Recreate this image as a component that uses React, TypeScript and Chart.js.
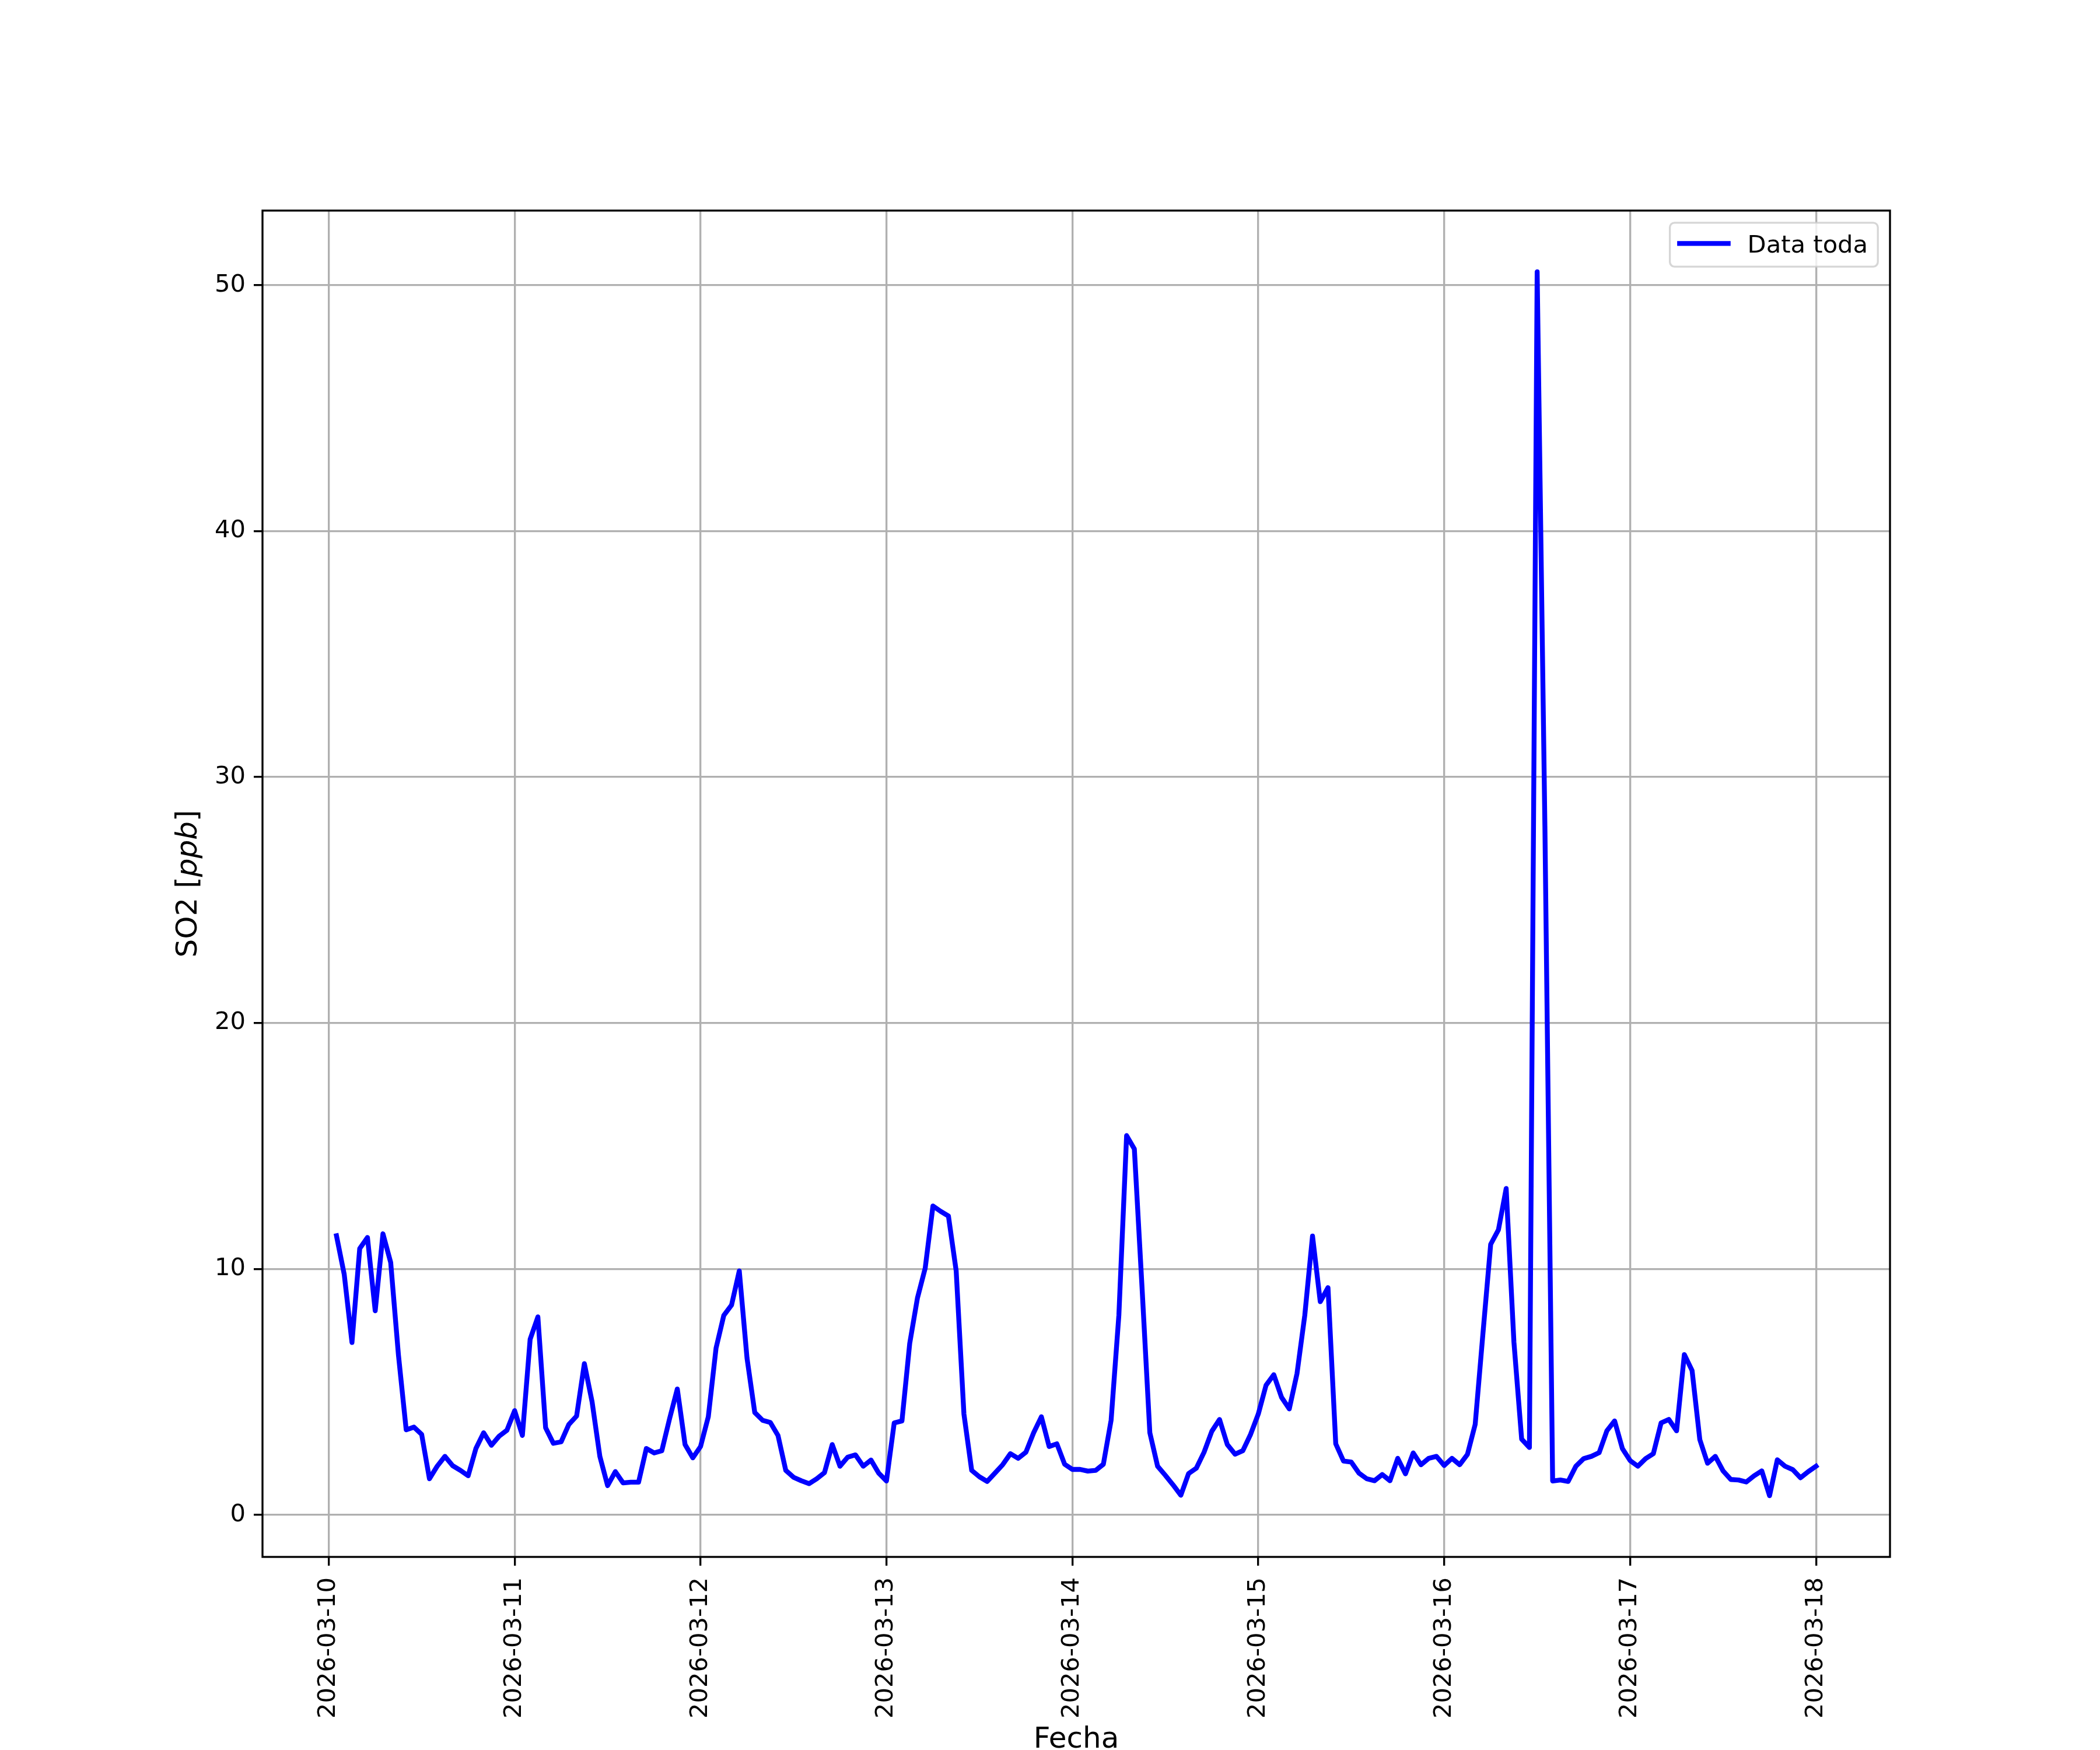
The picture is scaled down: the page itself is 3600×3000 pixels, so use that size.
import React, { useEffect, useRef } from 'react';
import { Chart, registerables } from 'chart.js';

Chart.register(...registerables);

// ---------- data ----------
const seriesLabel = 'Data toda';
const xTitle = 'Fecha';
const yTitleParts = ['SO2 [', 'ppb', ']']; // middle part is italic (math text)

const tickDays = [0, 1, 2, 3, 4, 5, 6, 7, 8];
const tickLabels = [
  '2026-03-10', '2026-03-11', '2026-03-12', '2026-03-13', '2026-03-14',
  '2026-03-15', '2026-03-16', '2026-03-17', '2026-03-18',
];
const yTicks = [0, 10, 20, 30, 40, 50];

// hourly SO2 [ppb], first sample 2026-03-10 01:00, last 2026-03-18 00:00
const so2Mar10 = [11.35, 9.78, 7.01, 10.83, 11.28, 8.30, 11.43, 10.26, 6.5, 3.46, 3.57, 3.27, 1.47, 1.98, 2.38, 2.0, 1.81, 1.59, 2.70, 3.34, 2.83, 3.20, 3.44, 4.24];
const so2Mar11 = [3.23, 7.14, 8.05, 3.54, 2.91, 2.97, 3.68, 4.02, 6.15, 4.59, 2.38, 1.19, 1.76, 1.30, 1.33, 1.33, 2.70, 2.52, 2.61, 3.91, 5.12, 2.86, 2.32, 2.78];
const so2Mar12 = [3.99, 6.78, 8.11, 8.53, 9.92, 6.37, 4.16, 3.85, 3.76, 3.23, 1.81, 1.53, 1.39, 1.27, 1.47, 1.72, 2.86, 1.98, 2.35, 2.44, 1.98, 2.23, 1.70, 1.38];
const so2Mar13 = [3.74, 3.82, 6.97, 8.82, 10.03, 12.56, 12.34, 12.15, 9.92, 4.10, 1.81, 1.55, 1.36, 1.70, 2.04, 2.49, 2.30, 2.55, 3.34, 3.99, 2.78, 2.89, 2.06, 1.85];
const so2Mar14 = [1.85, 1.78, 1.81, 2.06, 3.85, 8.11, 15.42, 14.88, 9.2, 3.34, 1.98, 1.61, 1.22, 0.80, 1.68, 1.90, 2.55, 3.40, 3.88, 2.86, 2.47, 2.61, 3.27, 4.10];
const so2Mar15 = [5.27, 5.70, 4.78, 4.31, 5.75, 8.11, 11.34, 8.67, 9.24, 2.89, 2.19, 2.15, 1.70, 1.47, 1.39, 1.64, 1.39, 2.30, 1.67, 2.52, 2.04, 2.30, 2.38, 2.01];
const so2Mar16 = [2.30, 2.04, 2.46, 3.68, 7.37, 11.0, 11.59, 13.27, 7.03, 3.08, 2.74, 50.54, 28.0, 1.38, 1.42, 1.36, 1.98, 2.29, 2.38, 2.53, 3.42, 3.82, 2.70, 2.21];
const so2Mar17 = [1.98, 2.29, 2.49, 3.74, 3.88, 3.42, 6.52, 5.87, 3.06, 2.10, 2.38, 1.79, 1.44, 1.42, 1.34, 1.59, 1.79, 0.78, 2.24, 1.98, 1.84, 1.51, 1.76, 1.98];

const so2Values = [
  ...so2Mar10, ...so2Mar11, ...so2Mar12, ...so2Mar13,
  ...so2Mar14, ...so2Mar15, ...so2Mar16, ...so2Mar17,
];
const firstHour = 1; // hours after 2026-03-10 00:00

// ---------- styling ----------
const FONT = "'DejaVu Sans', 'Liberation Sans', sans-serif";
const PT = 300 / 72; // px per point at 300 dpi
const LW_AXES = 0.8 * PT;
const TICK_FS = 10 * PT;
const LABEL_FS = 12 * PT;

export default function App() {
  const canvasRef = useRef<HTMLCanvasElement | null>(null);

  useEffect(() => {
    const canvas = canvasRef.current;
    if (!canvas) return;

    const points = so2Values.map((v, i) => ({ x: (i + firstHour) / 24, y: v }));
    const xs = points.map((p) => p.x);
    const ys = points.map((p) => p.y);
    const xLo = Math.min(...xs), xHi = Math.max(...xs);
    const yLo = Math.min(...ys), yHi = Math.max(...ys);
    const xPad = 0.05 * (xHi - xLo);
    const yPad = 0.05 * (yHi - yLo);

    const decor = {
      id: 'mplDecor',
      afterDatasetsDraw(chart: any) {
        const { ctx, chartArea: a } = chart;
        ctx.save();
        ctx.strokeStyle = '#000';
        ctx.lineWidth = LW_AXES;
        ctx.strokeRect(a.left, a.top, a.right - a.left, a.bottom - a.top);
        ctx.restore();
      },
      afterDraw(chart: any) {
        const { ctx, chartArea: a } = chart;
        ctx.save();
        // legend
        const bw = 356.6, bh = 75.3;
        const bx = a.right - 20.8 - bw;
        const by = a.top + 20.8;
        ctx.beginPath();
        ctx.roundRect(bx, by, bw, bh, 8);
        ctx.fillStyle = 'rgba(255,255,255,0.8)';
        ctx.fill();
        ctx.strokeStyle = 'rgba(204,204,204,0.8)';
        ctx.lineWidth = LW_AXES;
        ctx.stroke();
        ctx.beginPath();
        ctx.strokeStyle = '#0000ff';
        ctx.lineWidth = 2 * PT;
        ctx.lineCap = 'square';
        ctx.moveTo(bx + 16.7, by + 35.5);
        ctx.lineTo(bx + 16.7 + 83.3, by + 35.5);
        ctx.stroke();
        ctx.fillStyle = '#000';
        ctx.font = `${TICK_FS}px ${FONT}`;
        ctx.textBaseline = 'alphabetic';
        ctx.textAlign = 'left';
        ctx.fillText(seriesLabel, bx + 133, by + 51);

        // x title
        ctx.font = `${LABEL_FS}px ${FONT}`;
        ctx.textAlign = 'center';
        ctx.fillText(xTitle, (a.left + a.right) / 2, 2996);

        // y title with italic middle part
        const fonts = [
          `${LABEL_FS}px ${FONT}`,
          `italic ${LABEL_FS}px ${FONT}`,
          `${LABEL_FS}px ${FONT}`,
        ];
        const widths = yTitleParts.map((t, i) => {
          ctx.font = fonts[i];
          return ctx.measureText(t).width;
        });
        const total = widths.reduce((s, w) => s + w, 0);
        ctx.translate(337, (a.top + a.bottom) / 2);
        ctx.rotate(-Math.PI / 2);
        ctx.textAlign = 'left';
        let cx = -total / 2;
        yTitleParts.forEach((t, i) => {
          ctx.font = fonts[i];
          ctx.fillText(t, cx, 0);
          cx += widths[i];
        });
        ctx.restore();
      },
    };

    const chart = new Chart(canvas, {
      type: 'line',
      data: {
        datasets: [
          {
            label: seriesLabel,
            data: points,
            borderColor: '#0000ff',
            backgroundColor: '#0000ff',
            borderWidth: 2 * PT,
            pointRadius: 0,
            tension: 0,
            fill: false,
            borderJoinStyle: 'round',
            borderCapStyle: 'square',
          },
        ],
      },
      options: {
        animation: false,
        responsive: false,
        devicePixelRatio: 1,
        layout: { padding: { top: 361, right: 360, bottom: 0, left: 0 } },
        plugins: {
          legend: { display: false },
          tooltip: { enabled: false },
          title: { display: false },
        },
        scales: {
          x: {
            type: 'linear',
            min: xLo - xPad,
            max: xHi + xPad,
            afterBuildTicks: (scale: any) => {
              scale.ticks = tickDays.map((v) => ({ value: v }));
            },
            afterFit: (scale: any) => {
              scale.height = 331;
            },
            grid: {
              color: '#b0b0b0',
              lineWidth: LW_AXES,
              drawTicks: true,
              tickLength: 15,
              tickColor: '#000',
              tickWidth: LW_AXES,
            },
            border: { display: false },
            ticks: {
              autoSkip: false,
              minRotation: 90,
              maxRotation: 90,
              padding: 20,
              color: '#000',
              font: { family: FONT, size: TICK_FS },
              callback: (value: any) => {
                const idx = tickDays.indexOf(Number(value));
                return idx >= 0 ? tickLabels[idx] : '';
              },
            },
          },
          y: {
            type: 'linear',
            min: yLo - yPad,
            max: yHi + yPad,
            afterBuildTicks: (scale: any) => {
              scale.ticks = yTicks.map((v) => ({ value: v }));
            },
            afterFit: (scale: any) => {
              scale.width = 450;
            },
            grid: {
              color: '#b0b0b0',
              lineWidth: LW_AXES,
              drawTicks: true,
              tickLength: 15,
              tickColor: '#000',
              tickWidth: LW_AXES,
            },
            border: { display: false },
            ticks: {
              padding: 14,
              color: '#000',
              font: { family: FONT, size: TICK_FS },
              callback: (value: any) => String(value),
            },
          },
        },
      },
      plugins: [decor],
    } as any);

    return () => {
      chart.destroy();
    };
  }, []);

  return (
    <div style={{ position: 'absolute', left: 0, top: 0, width: 3600, height: 3000, background: '#fff' }}>
      <canvas ref={canvasRef} width={3600} height={3000} style={{ display: 'block', width: 3600, height: 3000 }} />
    </div>
  );
}
